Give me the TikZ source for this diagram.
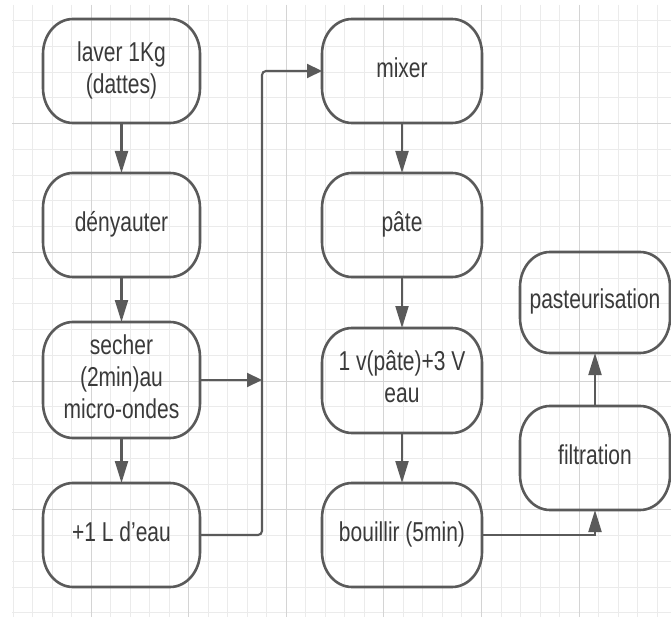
\documentclass[tikz,border=0pt]{standalone}
\usepackage{fontspec}
\setmainfont{Liberation Sans}
\usetikzlibrary{arrows.meta}
\definecolor{gridminor}{HTML}{EBEBEB}
\definecolor{gridmajor}{HTML}{D4D4D4}
\definecolor{boxgray}{HTML}{5A5A5A}
\definecolor{txtgray}{HTML}{3A3A3A}
\newcommand\stadbox[6]{%
  \node[stadnode, minimum width={(#4)-(#2)}, minimum height={(#5)-(#3)}] (#1) at ({((#2)+(#4))/2},{((#3)+(#5))/2})
    {\scalebox{1}[1.3]{\begin{tabular}{@{}c@{}}#6\end{tabular}}};
  \draw[boxline] ({(#2)+30},#3) -- ({(#4)-30},#3)
    .. controls ({(#4)-13.4},#3) and (#4,{(#3)+15.7}) .. (#4,{(#3)+35})
    -- (#4,{(#5)-35})
    .. controls (#4,{(#5)-15.7}) and ({(#4)-13.4},#5) .. ({(#4)-30},#5)
    -- ({(#2)+30},#5)
    .. controls ({(#2)+13.4},#5) and (#2,{(#5)-15.7}) .. (#2,{(#5)-35})
    -- (#2,{(#3)+35})
    .. controls (#2,{(#3)+15.7}) and ({(#2)+13.4},#3) .. cycle;
}
\tikzset{
  stadnode/.style={draw=none, inner sep=0pt, outer sep=0pt, text=txtgray,
    font=\fontsize{21}{24.5}\selectfont},
  boxline/.style={draw=boxgray, line width=2.6pt, line join=round},
  conn/.style={draw=boxgray, line width=2.1pt},
  vhead/.style={conn, -{Triangle[length=22pt,width=13pt]}},
  hhead/.style={conn, -{Triangle[length=15pt,width=14pt]}},
}
\begin{document}
\begin{tikzpicture}[x=1pt,y=-1pt]
\useasboundingbox (0,0) rectangle (671,617);
\fill[white] (0,0) rectangle (671,617);
% grid
\foreach \k in {0,...,33} {
  \draw[gridminor, line width=1pt] ({13+19.52*\k},5) -- ({13+19.52*\k},617);
}
\foreach \j in {0,...,23} {
  \draw[gridminor, line width=1pt] (12,{20.5+25.76*\j}) -- (671,{20.5+25.76*\j});
}
\foreach \k in {4,9,14,19,24,29} {
  \draw[gridmajor, line width=1pt] ({13+19.52*\k},5) -- ({13+19.52*\k},617);
}
\foreach \j in {4,9,14,19} {
  \draw[gridmajor, line width=1pt] (12,{20.5+25.76*\j}) -- (671,{20.5+25.76*\j});
}
% boxes column 1
\stadbox{laver}{43}{19}{200}{123}{laver 1Kg\\(dattes)}
\stadbox{deny}{43}{173}{200}{277}{dényauter}
\stadbox{secher}{43}{322}{200}{438}{secher\\(2min)au\\micro-ondes}
\stadbox{eau}{43}{483}{200}{587}{+1 L d'eau}
% column 2
\stadbox{mixer}{322}{19}{482}{123}{mixer}
\stadbox{pate}{322}{173}{482}{277}{pâte}
\stadbox{vol}{322}{328}{482}{433}{1 v(pâte)+3 V\\eau}
\stadbox{bouil}{322}{483}{482}{587}{bouillir (5min)}
% column 3
\stadbox{filt}{520}{406}{670}{510}{filtration}
\stadbox{past}{520}{252}{670}{353}{pasteurisation}
% junction coordinates
\coordinate (jsec) at (262,380);
\coordinate (jtop) at (262,71);
% connectors
\draw[vhead] (laver.south) -- (deny.north);
\draw[vhead] (deny.south) -- (secher.north);
\draw[vhead] (secher.south) -- (eau.north);
\draw[hhead] (secher.east |- jsec) -- (jsec);
\draw[hhead, rounded corners=4pt] (eau.east) -| (jtop) -- (mixer.west);
\draw[vhead] (mixer.south) -- (pate.north);
\draw[vhead] (pate.south) -- (vol.north);
\draw[vhead] (vol.south) -- (bouil.north);
\draw[vhead] (bouil.east) -| (filt.south);
\draw[vhead] (filt.north) -- (past.south);
\end{tikzpicture}
\end{document}
